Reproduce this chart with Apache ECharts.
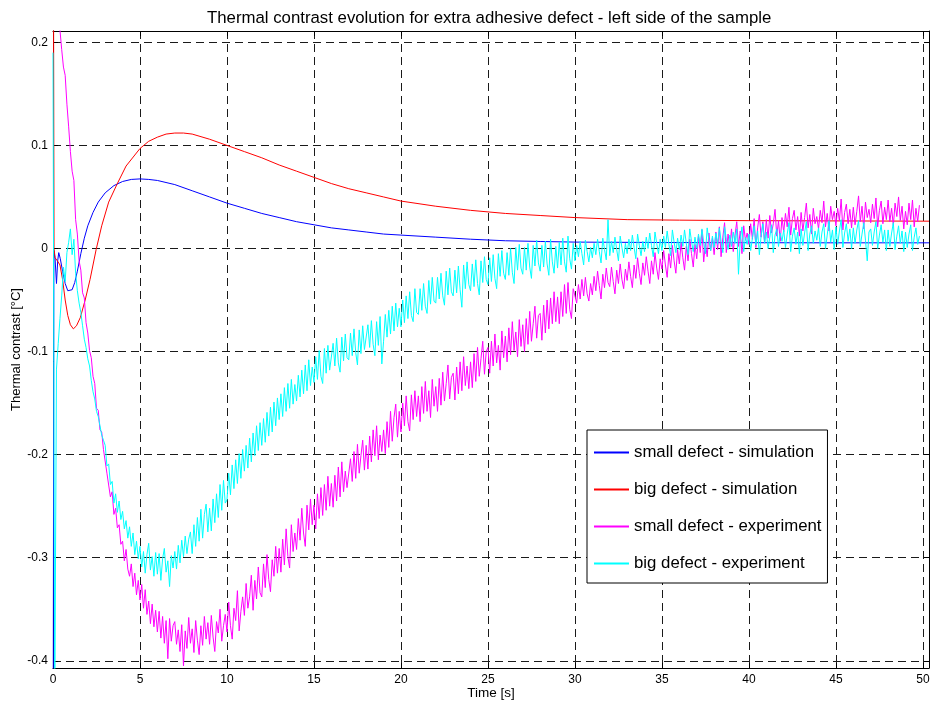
<!DOCTYPE html>
<html><head><meta charset="utf-8">
<script src="https://cdn.jsdelivr.net/npm/echarts@6/dist/echarts.min.js"></script>
<style>html,body{margin:0;padding:0;background:#fff}#c{width:931px;height:705px}</style>
</head><body><div id="c"></div>
<script>
const titleText = 'Thermal contrast evolution for extra adhesive defect - left side of the sample';
const xName = 'Time [s]';
const yName = 'Thermal contrast [°C]';
const seriesNames = ['small defect - simulation', 'big defect - simulation', 'small defect - experiment', 'big defect - experiment'];
const xTicks = [0, 5, 10, 15, 20, 25, 30, 35, 40, 45, 50];
const yTicks = [-0.4, -0.3, -0.2, -0.1, 0, 0.1, 0.2];

// simulation curves (time, value)
const smallSimT = [0, 0.05, 0.12, 0.2, 0.27, 0.33, 0.42, 0.55, 0.7, 0.85, 0.95, 1.1, 1.25, 1.4, 1.6, 1.8, 2.0, 2.3, 2.6, 3.0, 3.5, 4.0, 4.5, 5.0, 5.5, 6, 7, 8, 9, 10, 11, 12, 13, 14, 15, 16, 17, 18, 19, 20, 22, 24, 26, 28, 30, 35, 40, 45, 50.35];
const smallSimV = [-0.6, -0.002, -0.01, -0.034, -0.012, -0.004, -0.01, -0.022, -0.034, -0.041, -0.042, -0.04, -0.033, -0.022, -0.005, 0.01, 0.022, 0.035, 0.045, 0.054, 0.061, 0.065, 0.067, 0.0675, 0.067, 0.066, 0.062, 0.056, 0.05, 0.044, 0.039, 0.034, 0.03, 0.026, 0.023, 0.02, 0.018, 0.016, 0.014, 0.013, 0.011, 0.009, 0.0075, 0.0068, 0.0062, 0.0058, 0.0056, 0.0055, 0.0055];
const bigSimT = [0, 0.06, 0.12, 0.25, 0.4, 0.55, 0.7, 0.85, 1.0, 1.17, 1.35, 1.57, 1.85, 2.13, 2.48, 2.8, 3.2, 3.67, 4.2, 5, 5.5, 6, 6.5, 7, 7.5, 8, 9, 10, 11, 12, 13, 14, 15, 16, 17, 18, 19, 20, 22, 24, 26, 28, 30, 33, 36, 40, 50.35];
const bigSimV = [0.5, 0.0, -0.009, -0.012, -0.016, -0.03, -0.05, -0.065, -0.074, -0.078, -0.075, -0.067, -0.05, -0.03, -0.001, 0.022, 0.045, 0.062, 0.08, 0.097, 0.104, 0.108, 0.111, 0.112, 0.112, 0.111, 0.106, 0.1, 0.094, 0.088, 0.081, 0.075, 0.069, 0.063, 0.058, 0.054, 0.05, 0.046, 0.041, 0.037, 0.034, 0.032, 0.030, 0.028, 0.0275, 0.027, 0.0265];

// experiment curves, sampled every 0.1 s starting at t = 0
const expStep = 0.1;
const smallExpV = [
0.35, 0.33, 0.30, 0.262, 0.212, 0.193, 0.176, 0.168, 0.14, 0.118,
0.094, 0.075, 0.066, 0.028, 0.014, -0.012, -0.021, -0.043, -0.048, -0.072,
-0.082, -0.099, -0.106, -0.124, -0.131, -0.155, -0.157, -0.176, -0.178, -0.195,
-0.196, -0.218, -0.219, -0.241, -0.236, -0.258, -0.252, -0.271, -0.268, -0.287,
-0.284, -0.303, -0.292, -0.311, -0.318, -0.306, -0.328, -0.315, -0.336, -0.322,
-0.341, -0.326, -0.349, -0.331, -0.355, -0.342, -0.364, -0.345, -0.367, -0.351,
-0.372, -0.352, -0.378, -0.357, -0.383, -0.361, -0.398, -0.359, -0.381, -0.366,
-0.362, -0.384, -0.37, -0.391, -0.365, -0.405, -0.371, -0.388, -0.358, -0.383,
-0.369, -0.392, -0.361, -0.38, -0.394, -0.366, -0.385, -0.357, -0.379, -0.363,
-0.384, -0.356, -0.377, -0.391, -0.362, -0.373, -0.35, -0.381, -0.366, -0.355,
-0.372, -0.343, -0.366, -0.379, -0.349, -0.361, -0.332, -0.371, -0.352, -0.338,
-0.356, -0.325, -0.349, -0.338, -0.317, -0.351, -0.322, -0.34, -0.309, -0.334,
-0.338, -0.306, -0.329, -0.297, -0.321, -0.333, -0.302, -0.318, -0.289, -0.315,
-0.291, -0.314, -0.282, -0.307, -0.272, -0.299, -0.31, -0.268, -0.294, -0.276,
-0.292, -0.262, -0.283, -0.252, -0.276, -0.289, -0.249, -0.273, -0.243, -0.268,
-0.249, -0.272, -0.238, -0.262, -0.232, -0.259, -0.229, -0.254, -0.221, -0.25,
-0.228, -0.251, -0.22, -0.245, -0.212, -0.241, -0.207, -0.236, -0.216, -0.232,
-0.231, -0.204, -0.226, -0.197, -0.223, -0.19, -0.218, -0.201, -0.186, -0.215,
-0.191, -0.214, -0.182, -0.207, -0.176, -0.201, -0.172, -0.205, -0.181, -0.197,
-0.176, -0.199, -0.168, -0.193, -0.158, -0.187, -0.164, -0.151, -0.183, -0.158,
-0.178, -0.15, -0.172, -0.143, -0.168, -0.177, -0.142, -0.166, -0.138, -0.163,
-0.143, -0.168, -0.134, -0.16, -0.129, -0.158, -0.138, -0.164, -0.127, -0.153,
-0.134, -0.158, -0.126, -0.152, -0.12, -0.148, -0.131, -0.113, -0.146, -0.125,
-0.121, -0.147, -0.115, -0.141, -0.11, -0.138, -0.105, -0.133, -0.114, -0.136,
-0.11, -0.135, -0.102, -0.129, -0.096, -0.124, -0.107, -0.09, -0.122, -0.1,
-0.096, -0.121, -0.09, -0.114, -0.083, -0.111, -0.094, -0.118, -0.08, -0.106,
-0.085, -0.11, -0.077, -0.103, -0.071, -0.099, -0.081, -0.105, -0.069, -0.095,
-0.074, -0.1, -0.068, -0.093, -0.061, -0.09, -0.073, -0.056, -0.087, -0.065,
-0.063, -0.089, -0.055, -0.082, -0.05, -0.078, -0.048, -0.073, -0.042, -0.071,
-0.047, -0.073, -0.042, -0.066, -0.035, -0.063, -0.033, -0.059, -0.068, -0.039,
-0.039, -0.053, -0.035, -0.049, -0.03, -0.046, -0.028, -0.044, -0.051, -0.034,
-0.045, -0.027, -0.041, -0.022, -0.036, -0.049, -0.025, -0.038, -0.019, -0.033,
-0.037, -0.018, -0.032, -0.044, -0.021, -0.034, -0.015, -0.03, -0.039, -0.02,
-0.031, -0.013, -0.027, -0.038, -0.016, -0.029, -0.009, -0.024, -0.035, -0.014,
-0.026, -0.008, -0.022, -0.034, -0.012, -0.025, -0.004, -0.019, -0.03, -0.01,
-0.02, -0.002, -0.016, -0.028, -0.005, -0.019, 0.003, -0.012, -0.024, -0.001,
-0.015, 0.006, -0.009, -0.021, 0.002, -0.012, 0.009, -0.005, -0.018, 0.004,
-0.01, 0.012, -0.004, 0.018, -0.013, 0.006, -0.008, 0.015, -0.002, 0.01,
-0.006, 0.016, -0.001, 0.021, -0.008, 0.011, 0.025, -0.004, 0.014, 0.001,
0.019, -0.003, 0.013, 0.026, 0.002, 0.017, -0.005, 0.022, 0.008, 0.015,
0.004, 0.024, 0.009, 0.029, 0.001, 0.02, 0.033, 0.011, 0.026, 0.006,
0.028, 0.01, 0.032, 0.015, 0.024, 0.038, 0.012, 0.027, 0.007, 0.03,
0.016, 0.034, 0.021, 0.04, 0.013, 0.029, 0.037, 0.018, 0.031, 0.012,
0.035, 0.017, 0.03, 0.044, 0.02, 0.033, 0.014, 0.039, 0.024, 0.031,
0.019, 0.037, 0.025, 0.046, 0.021, 0.034, 0.017, 0.041, 0.028, 0.036,
0.022, 0.039, 0.027, 0.048, 0.018, 0.035, 0.043, 0.024, 0.038, 0.02,
0.04, 0.023, 0.036, 0.051, 0.026, 0.041, 0.019, 0.045, 0.03, 0.038,
0.025, 0.043, 0.029, 0.049, 0.021, 0.037, 0.046, 0.024, 0.04, 0.028,
0.047, 0.026, 0.039, 0.022, 0.044, 0.031, 0.05, 0.027, 0.041, 0.019,
0.036, 0.023, 0.044, 0.028, 0.047, 0.021, 0.039, 0.026, 0.042
];
const bigExpV = [
0.19, -0.45, -0.117, -0.092, -0.068, -0.046, -0.018, -0.032, -0.004, 0.006,
0.019, -0.006, 0.009, -0.024, -0.041, -0.053, -0.062, -0.075, -0.088, -0.096,
-0.107, -0.114, -0.128, -0.139, -0.146, -0.158, -0.163, -0.172, -0.181, -0.186,
-0.191, -0.211, -0.209, -0.229, -0.226, -0.247, -0.238, -0.256, -0.245, -0.263,
-0.255, -0.272, -0.264, -0.281, -0.27, -0.289, -0.276, -0.297, -0.284, -0.301,
-0.289, -0.309, -0.294, -0.315, -0.297, -0.286, -0.312, -0.299, -0.318, -0.295,
-0.316, -0.296, -0.322, -0.301, -0.291, -0.314, -0.303, -0.328, -0.298, -0.31,
-0.294, -0.311, -0.288, -0.305, -0.283, -0.299, -0.279, -0.296, -0.282, -0.275,
-0.296, -0.268, -0.289, -0.261, -0.284, -0.253, -0.281, -0.258, -0.248, -0.275,
-0.252, -0.274, -0.243, -0.266, -0.238, -0.261, -0.229, -0.254, -0.225, -0.247,
-0.244, -0.218, -0.239, -0.21, -0.233, -0.205, -0.228, -0.199, -0.223, -0.195,
-0.216, -0.191, -0.213, -0.184, -0.207, -0.179, -0.201, -0.172, -0.196, -0.169,
-0.191, -0.165, -0.188, -0.159, -0.182, -0.154, -0.178, -0.149, -0.172, -0.145,
-0.166, -0.141, -0.163, -0.135, -0.158, -0.131, -0.155, -0.127, -0.151, -0.132,
-0.148, -0.123, -0.144, -0.118, -0.141, -0.113, -0.138, -0.108, -0.133, -0.115,
-0.13, -0.105, -0.127, -0.099, -0.124, -0.131, -0.097, -0.121, -0.094, -0.118,
-0.117, -0.092, -0.114, -0.087, -0.111, -0.12, -0.086, -0.109, -0.083, -0.106,
-0.108, -0.082, -0.104, -0.078, -0.101, -0.113, -0.079, -0.102, -0.075, -0.098,
-0.099, -0.074, -0.096, -0.07, -0.093, -0.104, -0.071, -0.094, -0.066, -0.112,
-0.09, -0.064, -0.086, -0.06, -0.083, -0.056, -0.08, -0.053, -0.076, -0.058,
-0.076, -0.05, -0.072, -0.046, -0.068, -0.042, -0.065, -0.071, -0.039, -0.062,
-0.064, -0.039, -0.06, -0.034, -0.056, -0.063, -0.031, -0.054, -0.028, -0.051,
-0.053, -0.028, -0.049, -0.024, -0.046, -0.055, -0.022, -0.045, -0.019, -0.042,
-0.046, -0.021, -0.043, -0.017, -0.04, -0.057, -0.016, -0.039, -0.013, -0.035,
-0.041, -0.015, -0.037, -0.011, -0.034, -0.045, -0.012, -0.033, -0.008, -0.03,
-0.035, -0.009, -0.032, -0.006, -0.029, -0.039, -0.005, -0.027, -0.002, -0.024,
-0.03, -0.004, -0.026, 0.0, -0.023, -0.034, 0.001, -0.021, 0.004, -0.019,
-0.025, 0.001, -0.021, 0.005, -0.018, -0.029, 0.003, -0.017, 0.008, -0.014,
-0.022, 0.003, -0.018, 0.007, -0.015, -0.026, 0.009, -0.013, -0.024, 0.002,
-0.019, 0.006, -0.016, 0.01, -0.013, -0.023, 0.012, -0.01, -0.02, 0.005,
-0.012, 0.003, -0.008, 0.007, -0.005, -0.016, 0.008, -0.003, -0.013, 0.001,
-0.009, 0.005, -0.006, 0.009, -0.003, -0.014, 0.01, -0.001, -0.011, 0.028,
-0.007, 0.007, -0.004, 0.011, -0.001, -0.012, 0.012, 0.001, -0.009, 0.005,
-0.005, 0.009, -0.002, 0.013, 0.001, -0.01, 0.014, 0.003, -0.007, 0.007,
-0.003, 0.011, 0.0, 0.015, 0.003, -0.008, 0.016, 0.005, -0.005, 0.009,
-0.002, 0.012, 0.001, 0.017, 0.004, -0.007, 0.018, 0.006, -0.004, 0.01,
-0.001, 0.013, 0.002, 0.018, 0.005, -0.006, 0.019, 0.007, -0.003, 0.011,
0.0, 0.014, 0.003, 0.019, 0.006, -0.005, 0.02, 0.008, -0.002, 0.012,
0.001, 0.015, 0.004, 0.02, 0.007, -0.004, 0.021, 0.009, -0.001, 0.013,
0.002, 0.016, 0.005, 0.019, -0.025, 0.008, 0.021, -0.003, 0.011, 0.004,
0.014, -0.002, 0.01, 0.022, 0.003, 0.017, -0.006, 0.012, 0.024, 0.005,
0.016, 0.0, 0.011, 0.023, -0.004, 0.013, 0.019, 0.002, 0.015, 0.007,
0.018, 0.001, 0.014, 0.025, -0.003, 0.012, 0.02, 0.004, 0.016, -0.005,
0.019, 0.003, 0.015, 0.026, -0.002, 0.014, 0.022, 0.005, 0.017, 0.008,
0.02, 0.002, 0.016, 0.024, 0.0, 0.013, 0.027, 0.006, 0.018, -0.001,
0.021, 0.004, 0.017, 0.028, 0.001, 0.015, 0.024, 0.007, 0.019, 0.0,
0.02, 0.005, 0.018, 0.027, 0.002, 0.014, 0.025, 0.008, -0.012, 0.016,
0.019, 0.003, 0.016, 0.026, 0.0, 0.013, 0.023, 0.006, 0.018, -0.002,
0.018, 0.002, 0.015, 0.025, -0.001, 0.012, 0.022, 0.005, 0.017, -0.003,
0.016, 0.001, 0.014, 0.023, -0.002, 0.011, 0.02, 0.004, 0.012
];
const colors = ['#0000ff', '#ff0000', '#ff00ff', '#00ffff'];

function pairs(ts, vs) { return vs.map((v, i) => [ts[i], v]); }
function sampled(vs, step) { return vs.map((v, i) => [+(i * step).toFixed(2), v]); }
function fmtTick(list) {
  return function (v) {
    for (const t of list) { if (Math.abs(v - t) < 1e-6) return String(t); }
    return '';
  };
}

const FONT = '"Liberation Sans", Arial, Helvetica, sans-serif';
const gridLine = { show: true, lineStyle: { color: '#1a1a1a', width: 1, type: [8, 5] } };
const tickStyle = { show: true, inside: true, length: 5, lineStyle: { color: '#000', width: 1 } };
const axisLineStyle = { show: true, onZero: false, lineStyle: { color: '#000', width: 1 } };
const X_MIN = 0, X_MAX = 50.35, Y_MIN = -0.407, Y_MAX = 0.211;

const chart = echarts.init(document.getElementById('c'), null, { renderer: 'canvas' });
chart.setOption({
  animation: false,
  backgroundColor: '#fff',
  title: {
    text: titleText, left: 202, top: 5,
    textStyle: { fontFamily: FONT, fontSize: 16.8, fontWeight: 'normal', color: '#000' }
  },
  grid: { left: 53, top: 31, right: 2, bottom: 37, containLabel: false, outerBoundsMode: 'none' },
  legend: {
    orient: 'vertical', left: 587, top: 430,
    padding: [14, 6, 11, 6],
    itemWidth: 35, itemHeight: 16, itemGap: 20,
    itemStyle: { opacity: 0 },
    backgroundColor: '#fff', borderColor: '#000', borderWidth: 1, borderRadius: 0,
    textStyle: { fontFamily: FONT, fontSize: 16.8, color: '#000' },
    data: seriesNames
  },
  xAxis: [{
    type: 'value', min: X_MIN, max: X_MAX, splitNumber: 10, position: 'bottom',
    name: xName, nameLocation: 'middle', nameGap: 18, nameMoveOverlap: false,
    nameTextStyle: { fontFamily: FONT, fontSize: 13.5, color: '#000' },
    axisLine: axisLineStyle, axisTick: tickStyle, splitLine: gridLine,
    axisLabel: { fontFamily: FONT, fontSize: 12, color: '#000', margin: 6, formatter: fmtTick(xTicks), showMaxLabel: false }
  }, {
    type: 'value', min: X_MIN, max: X_MAX, splitNumber: 10, position: 'top',
    axisLine: axisLineStyle, axisTick: tickStyle, splitLine: { show: false }, axisLabel: { show: false }
  }],
  yAxis: [{
    type: 'value', min: Y_MIN, max: Y_MAX, splitNumber: 6, position: 'left',
    name: yName, nameLocation: 'middle', nameGap: 30, nameMoveOverlap: false,
    nameTextStyle: { fontFamily: FONT, fontSize: 13, color: '#000' },
    axisLine: axisLineStyle, axisTick: tickStyle, splitLine: gridLine,
    axisLabel: { fontFamily: FONT, fontSize: 12, color: '#000', margin: 5, formatter: fmtTick(yTicks), showMinLabel: false, showMaxLabel: false }
  }, {
    type: 'value', min: Y_MIN, max: Y_MAX, splitNumber: 6, position: 'right',
    axisLine: axisLineStyle, axisTick: tickStyle, splitLine: { show: false }, axisLabel: { show: false }
  }],
  series: [
    { name: seriesNames[0], type: 'line', data: pairs(smallSimT, smallSimV) },
    { name: seriesNames[1], type: 'line', data: pairs(bigSimT, bigSimV) },
    { name: seriesNames[2], type: 'line', data: sampled(smallExpV, expStep) },
    { name: seriesNames[3], type: 'line', data: sampled(bigExpV, expStep) }
  ].map((s, i) => Object.assign(s, {
    xAxisIndex: 0, yAxisIndex: 0, symbol: 'none', showSymbol: false, smooth: false, clip: true,
    color: colors[i], lineStyle: { color: colors[i], width: 1 }
  }))
});
</script></body></html>
